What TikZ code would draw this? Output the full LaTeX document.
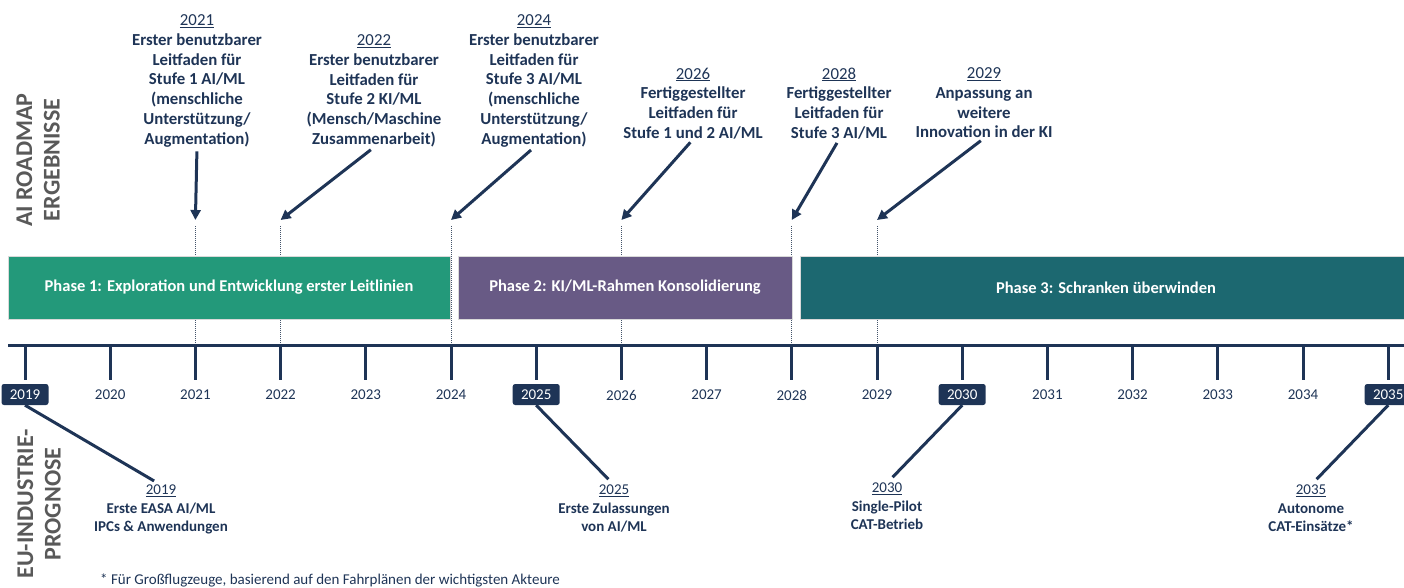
\documentclass[tikz,border=0pt]{standalone}
\usepackage{fontspec}
\setmainfont{Carlito}
\usetikzlibrary{arrows.meta}

\begin{document}
\begin{tikzpicture}[x=1pt,y=-1pt,line width=0.35pt,
    milestone/.style={align=center,text=navy,inner sep=0pt,
      font=\fontsize{16.8}{19.8}\selectfont\bfseries},
    forecast/.style={align=center,text=navy,inner sep=0pt,
      font=\fontsize{15}{18.5}\selectfont\bfseries},
    phasebar/.style={draw=black!15,line width=1pt,minimum height=63pt,
      inner sep=0pt,text=white,font=\fontsize{16.5}{18}\selectfont\bfseries},
    yearbox/.style={fill=navy,text=white,rounded corners=2.5pt,minimum width=47pt,
      minimum height=21pt,inner sep=0pt,font=\fontsize{15}{16}\selectfont},
    yearlab/.style={text=navy,inner sep=0pt,font=\fontsize{15}{16}\selectfont},
    pointer/.style={navy,line width=3pt,shorten <=4pt,-{Triangle[length=10pt,width=10pt]}},
    leader/.style={navy,line width=3pt},
    guide/.style={guidegray,line width=1pt,dash pattern=on 1pt off 1pt},
    sidehead/.style={rotate=90,align=center,text=sidegray,inner sep=0pt,
      font=\fontsize{24}{27.5}\selectfont\bfseries}]
  \definecolor{navy}{HTML}{1E3456}
  \definecolor{guidegray}{HTML}{44546A}
  \definecolor{sidegray}{HTML}{595959}
  \definecolor{phaseone}{HTML}{23997A}
  \definecolor{phasetwo}{HTML}{685A85}
  \definecolor{phasethree}{HTML}{1C6870}
  \useasboundingbox (0,0) rectangle (1404,588);

  % timeline positions
  \foreach \yr in {2019,...,2035} {
    \pgfmathsetmacro{\tx}{25+85.2*(\yr-2019)}
    \coordinate (t\yr) at (\tx,345);
    \coordinate (tip\yr) at (\tx,220);
  }
  \foreach \yr in {2021,2022,2024,2026,2028,2029}
    \draw[guide] (t\yr) -- ++(0,-119);

  \node[phasebar,fill=phaseone,minimum width=442pt] (ph1) at (229,287.5)
    {Phase 1: Exploration und Entwicklung erster Leitlinien};
  \node[phasebar,fill=phasetwo,minimum width=334pt] (ph2) at (625,287.5)
    {Phase 2: KI/ML-Rahmen Konsolidierung};
  \node[phasebar,fill=phasethree,minimum width=612pt] (ph3) at (1106,287.5)
    {Phase 3: Schranken überwinden};

  \coordinate (axl) at (8,345);
  \coordinate (axr) at (1410,345);
  \draw[leader] (axl) -- (axr);
  \foreach \yr in {2019,...,2035}
    \draw[leader] (t\yr) -- ++(0,35);

  \foreach \yr in {2020,2021,2022,2023,2024,2026,2027,2028,2029,2031,2032,2033,2034} {
    \pgfmathsetmacro{\tx}{25+85.2*(\yr-2019)}
    \node[yearlab] (y\yr) at (\tx,395) {\yr};
  }
  \foreach \yr in {2019,2025,2030,2035} {
    \pgfmathsetmacro{\tx}{25+85.2*(\yr-2019)}
    \node[yearbox] (y\yr) at (\tx,394.5) {\yr};
  }

  \node[milestone,anchor=north] (lab2021) at (197,14.5) {\underline{\mdseries 2021}\\Erster benutzbarer\\Leitfaden für\\Stufe 1 AI/ML\\(menschliche\\Unterstützung/\\Augmentation)};
  \node[milestone,anchor=north] (lab2022) at (374,34.5) {\underline{\mdseries 2022}\\Erster benutzbarer\\Leitfaden für\\Stufe 2 KI/ML\\(Mensch/Maschine\\Zusammenarbeit)};
  \node[milestone,anchor=north] (lab2024) at (534,14.5) {\underline{\mdseries 2024}\\Erster benutzbarer\\Leitfaden für\\Stufe 3 AI/ML\\(menschliche\\Unterstützung/\\Augmentation)};
  \node[milestone,anchor=north] (lab2026) at (693,67.5) {\underline{\mdseries 2026}\\Fertiggestellter\\Leitfaden für\\Stufe 1 und 2 AI/ML};
  \node[milestone,anchor=north] (lab2028) at (839,67.5) {\underline{\mdseries 2028}\\Fertiggestellter\\Leitfaden für\\Stufe 3 AI/ML};
  \node[milestone,anchor=north] (lab2029) at (984,67.5) {\underline{\mdseries 2029}\\Anpassung an\\weitere\\Innovation in der KI};
  \foreach \yr in {2021,2022,2024,2026,2028,2029}
    \draw[pointer] (lab\yr.south) -- (tip\yr);

  \node[forecast,anchor=north] (lab2019) at (161,485) {\underline{\mdseries 2019}\\Erste EASA AI/ML\\IPCs \& Anwendungen};
  \node[forecast,anchor=north] (lab2025) at (614,485) {\underline{\mdseries 2025}\\Erste Zulassungen\\von AI/ML};
  \node[forecast,anchor=north] (lab2030) at (887,483) {\underline{\mdseries 2030}\\Single-Pilot\\CAT-Betrieb};
  \node[forecast,anchor=north] (lab2035) at (1311,485) {\underline{\mdseries 2035}\\Autonome\\CAT-Einsätze*};
  \foreach \yr in {2019,2025,2030,2035}
    \draw[leader,shorten >=8pt] (y\yr.south) -- (lab\yr.north);

  \node[sidehead] (headtop) at (38,160) {AI ROADMAP\\ERGEBNISSE};
  \node[sidehead] (headbot) at (39,504) {EU-INDUSTRIE-\\PROGNOSE};
  \node[anchor=west,text=navy,inner sep=0pt,font=\fontsize{15}{17}\selectfont] (footnote) at (100,580)
    {* Für Großflugzeuge, basierend auf den Fahrplänen der wichtigsten Akteure};
\end{tikzpicture}
\end{document}
